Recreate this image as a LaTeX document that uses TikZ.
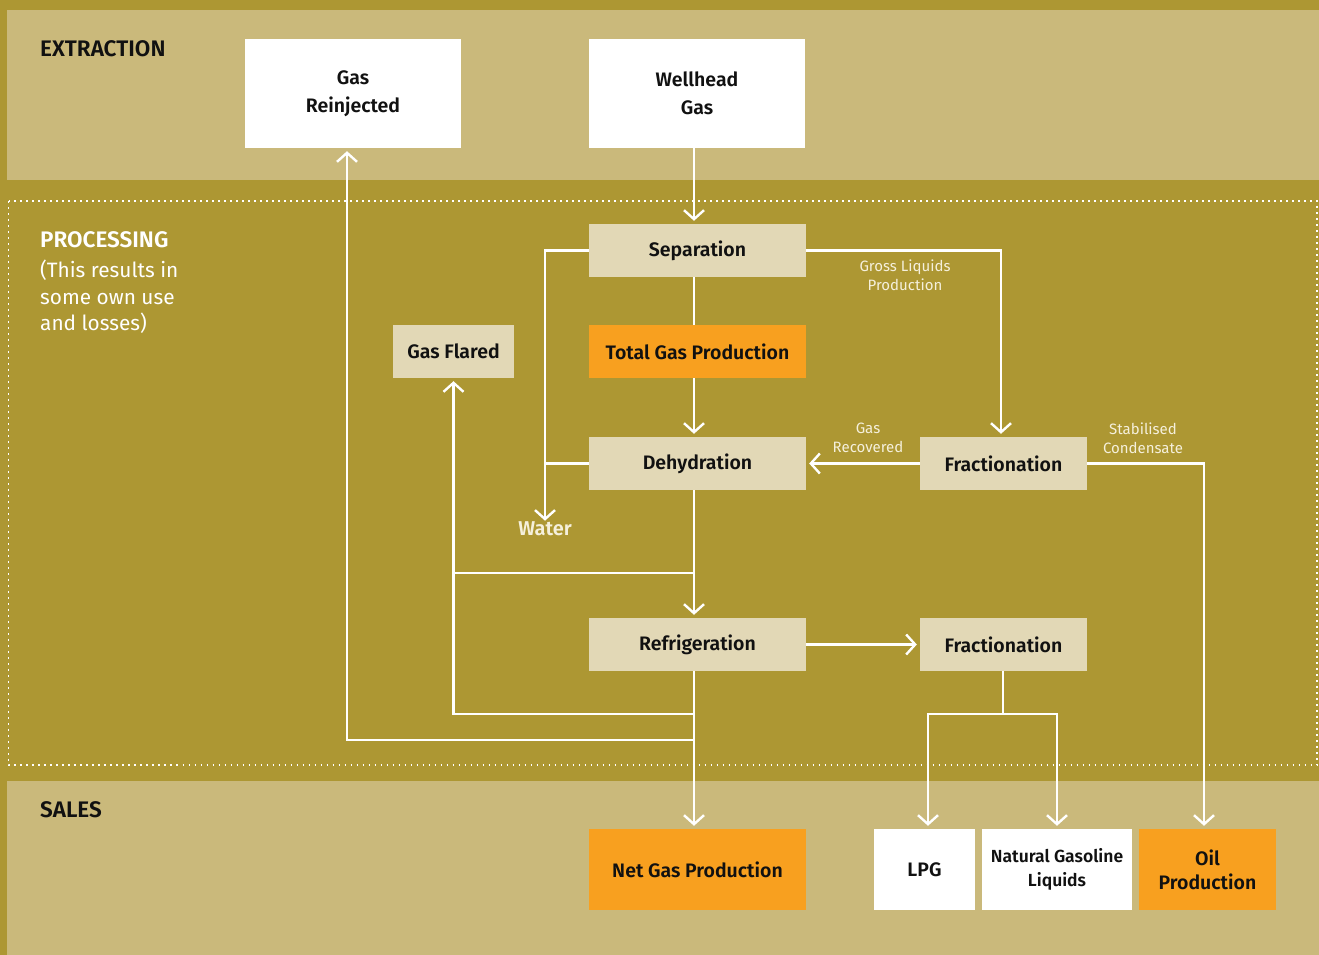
\documentclass[tikz,border=0pt]{standalone}
\usepackage{fontspec}
\setmainfont{Fira Sans}[BoldFont={Fira Sans SemiBold}]
\usetikzlibrary{arrows.meta}
\definecolor{olive}{HTML}{AD9733}
\definecolor{lighttan}{HTML}{CAB97B}
\definecolor{boxtan}{HTML}{E2D8B6}
\definecolor{orng}{HTML}{F8A01F}
\definecolor{lbl}{HTML}{F5F0DC}
\definecolor{ink}{HTML}{111111}
\tikzset{
  box/.style={inner sep=0pt, align=center, text=ink, font=\fontsize{19.5}{24}\selectfont\bfseries},
  tanbox/.style={box, fill=boxtan},
  whitebox/.style={box, fill=white},
  orangebox/.style={box, fill=orng},
  conn/.style={draw=white, line width=2.4pt},
  arr/.style={conn, -{Straight Barb[length=9pt,width=20pt]}, shorten >=3pt},
  lbltext/.style={text=lbl, align=center, inner sep=0pt, font=\fontsize{15}{18.5}\selectfont},
  header/.style={inner sep=0pt, anchor=base west, font=\fontsize{22.5}{26}\selectfont\bfseries}
}
\begin{document}
\begin{tikzpicture}[x=1pt,y=-1pt]
\useasboundingbox (0,0) rectangle (1319,955);
\fill[olive] (0,0) rectangle (1319,955);
\fill[lighttan] (7,10) rectangle (1319,180);
\fill[lighttan] (7,781) rectangle (1319,955);
\draw[white, line width=1.6pt, dash pattern=on 1.6pt off 4.4pt] (8.5,201) rectangle (1317,765);

% headers
\node[header, text=ink] (hext) at (40,57) {EXTRACTION};
\node[header, text=white] (hproc) at (40,247) {PROCESSING};
\node[inner sep=0pt, anchor=north west, align=left, text=white, font=\fontsize{20.8}{26.5}\selectfont] (hnote) at (40,260) {(This results in\\some own use\\and losses)};
\node[header, text=ink] (hsales) at (40,817) {SALES};

% boxes
\node[whitebox, minimum width=216pt, minimum height=109pt, font=\fontsize{19.5}{28}\selectfont\bfseries] (reinj) at (353,93.5) {Gas\\Reinjected};
\node[whitebox, minimum width=216pt, minimum height=109pt, font=\fontsize{19.5}{28}\selectfont\bfseries] (well) at (697,93.5) {Wellhead\\Gas};
\node[tanbox, minimum width=217pt, minimum height=53pt] (sep) at (697.5,250.5) {Separation};
\node[orangebox, minimum width=217pt, minimum height=53pt] (tgp) at (697.5,351.5) {Total Gas Production};
\node[tanbox, minimum width=121pt, minimum height=53pt] (flared) at (453.5,351.5) {Gas Flared};
\node[tanbox, minimum width=217pt, minimum height=53pt] (dehy) at (697.5,463.5) {Dehydration};
\node[tanbox, minimum width=167pt, minimum height=53pt] (frac1) at (1003.5,463.5) {Fractionation};
\node[tanbox, minimum width=217pt, minimum height=53pt] (refr) at (697.5,644.5) {Refrigeration};
\node[tanbox, minimum width=167pt, minimum height=53pt] (frac2) at (1003.5,644.5) {Fractionation};
\node[orangebox, minimum width=217pt, minimum height=81pt] (net) at (697.5,869.5) {Net Gas Production};
\node[whitebox, minimum width=101pt, minimum height=81pt] (lpg) at (924.5,869.5) {LPG};
\node[whitebox, minimum width=150pt, minimum height=81pt, font=\fontsize{17.5}{24}\selectfont\bfseries] (ngl) at (1057,869.5) {Natural Gasoline\\Liquids};
\node[orangebox, minimum width=137pt, minimum height=81pt] (oil) at (1207.5,869.5) {Oil\\Production};

% water label
\node[inner sep=0pt, text=lbl, font=\fontsize{20}{22}\selectfont\bfseries] (water) at (545,529) {Water};

% connector labels
\node[lbltext] (lgross) at (905,275) {Gross Liquids\\Production};
\node[lbltext] (lgasrec) at (868,438) {Gas\\Recovered};
\node[lbltext] (lstab) at (1143,438) {Stabilised\\Condensate};

% junction coordinates
\coordinate (j1) at (694,573);
\coordinate (j2) at (694,714);
\coordinate (j3) at (694,740);
\coordinate (j4) at (1003,714);

% connectors
\draw[arr] ([xshift=-3pt]well.south) -- ([xshift=-3.5pt]sep.north);
\draw[arr] (sep.west) -| ([yshift=-2pt]water.north);
\draw[conn] (dehy.west) -- (dehy.west -| water.north);
\draw[conn] ([xshift=-3.5pt]sep.south) -- ([xshift=-3.5pt]tgp.north);
\draw[arr] ([xshift=-3.5pt]tgp.south) -- ([xshift=-3.5pt]dehy.north);
\draw[arr] (sep.east) -| ([xshift=-2.5pt]frac1.north);
\draw[arr] (frac1.west) -- (dehy.east);
\draw[arr] (frac1.east) -| ([xshift=-3.5pt]oil.north);
\draw[arr] ([xshift=-3.5pt]dehy.south) -- ([xshift=-3.5pt]refr.north);
\draw[conn] (j1) -- (j1 -| flared.south);
\draw[arr] (j2) -| (flared.south);
\draw[arr] (refr.east) -- (frac2.west);
\draw[arr] ([xshift=-3.5pt]refr.south) -- ([xshift=-3.5pt]net.north);
\draw[arr] (j3) -| ([xshift=-6pt]reinj.south);
\draw[conn] ([xshift=-0.5pt]frac2.south) -- (j4);
\draw[arr] (j4) -| ([xshift=3.5pt]lpg.north);
\draw[arr] (j4) -| (ngl.north);
\end{tikzpicture}
\end{document}
